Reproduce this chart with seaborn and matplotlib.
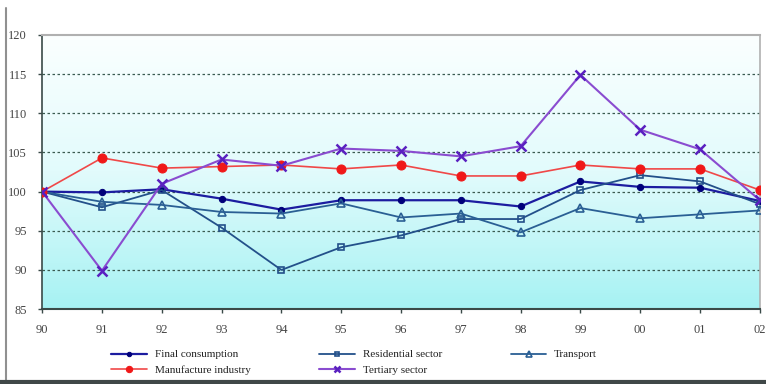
import numpy as np
import pandas as pd
import matplotlib.pyplot as plt
import seaborn as sns
from matplotlib.lines import Line2D
from matplotlib.colors import LinearSegmentedColormap

# ----------------------------
# DATA (index, 1990 = 100)
# ----------------------------

years = ['90', '91', '92', '93', '94', '95', '96', '97', '98', '99', '00', '01', '02']

final_consumption = [100, 99.9, 100.3, 99.1, 97.7, 98.9, 98.9, 98.9, 98.1, 101.3, 100.6, 100.5, 98.8]
residential_sector = [100, 98.0, 100.2, 95.4, 90.0, 92.9, 94.4, 96.5, 96.5, 100.2, 102.1, 101.3, 98.4]
transport = [100, 98.7, 98.3, 97.4, 97.2, 98.5, 96.7, 97.2, 94.8, 97.9, 96.6, 97.1, 97.6]
manufacture_industry = [100, 104.3, 103.0, 103.2, 103.4, 102.9, 103.4, 102.0, 102.0, 103.4, 102.9, 102.9, 100.2]
tertiary_sector = [100, 89.9, 101.0, 104.1, 103.3, 105.5, 105.2, 104.5, 105.8, 114.9, 107.9, 105.4, 98.9]

y_ticks = [85, 90, 95, 100, 105, 110, 115, 120]

sns.set_theme(style="white")
plt.rcParams['font.family'] = ['Liberation Serif', 'DejaVu Serif']

x = np.arange(len(years))

fig = plt.figure(figsize=(7.66, 3.84), dpi=100)
ax = fig.add_axes([0.055, 0.195, 0.937, 0.714])

# gradient background: white at top, cyan at bottom
cmap = LinearSegmentedColormap.from_list("bg", ["#fbffff", "#e2fbfc", "#a6f2f3"])
grad = np.linspace(1, 0, 256).reshape(-1, 1)
ax.imshow(grad, cmap=cmap, aspect='auto', extent=[0, len(years) - 1, 85, 120],
          origin='lower', zorder=0)

# ----------------------------
# LINES
# ----------------------------

series = [
    ("Final consumption", final_consumption,
     dict(color="#1c1ca0", marker="o", markersize=4.5, markerfacecolor="#00007a",
          markeredgecolor="#00007a", linewidth=1.6)),
    ("Residential sector", residential_sector,
     dict(color="#23508a", marker="s", markersize=5, markerfacecolor="none",
          markeredgecolor="#23508a", markeredgewidth=1.2, linewidth=1.3)),
    ("Transport", transport,
     dict(color="#2a5f94", marker="^", markersize=6, markerfacecolor="none",
          markeredgecolor="#2a5f94", markeredgewidth=1.2, linewidth=1.3)),
    ("Manufacture industry", manufacture_industry,
     dict(color="#f04848", marker="o", markersize=6.5, markerfacecolor="#f01818",
          markeredgecolor="#f01818", linewidth=1.2)),
    ("Tertiary sector", tertiary_sector,
     dict(color="#8a4cd0", marker="x", markersize=7, markeredgecolor="#5a20c0",
          markeredgewidth=1.8, linewidth=1.5)),
]

for name, vals, style in series:
    sns.lineplot(x=x, y=vals, ax=ax, label=name, zorder=3, **style)

# ----------------------------
# AXES STYLING
# ----------------------------

ax.set_xlim(0, len(years) - 1)
ax.set_ylim(85, 120)
ax.set_xticks(x)
ax.set_xticklabels(years)
ax.set_yticks(y_ticks)
ax.set_xlabel("")
ax.set_ylabel("")

for yv in y_ticks[1:-1]:
    ax.axhline(yv, color="#3a5a50", linestyle=(0, (2, 2)), linewidth=0.9, zorder=1)

ax.spines['left'].set_color("#3a4a48")
ax.spines['bottom'].set_color("#3a4a48")
ax.spines['left'].set_linewidth(1.2)
ax.spines['bottom'].set_linewidth(1.5)
ax.spines['top'].set_color("#b0b0b0")
ax.spines['right'].set_color("#b0b0b0")
ax.spines['top'].set_linewidth(1.5)
ax.spines['right'].set_linewidth(1.2)

ax.tick_params(axis='both', which='both', length=3, width=1, color="#3a4a48",
               labelsize=9, labelcolor="#444444", direction='out',
               bottom=True, left=True, pad=8)

# legend below plot, row-wise order
handles, labels = ax.get_legend_handles_labels()
order = [0, 3, 1, 4, 2]
ax.legend([handles[i] for i in order], [labels[i] for i in order],
          ncol=3, loc='upper left', bbox_to_anchor=(0.138, 0.104),
          bbox_transform=fig.transFigure, frameon=False, fontsize=8,
          handlelength=3.2, handletextpad=0.7, columnspacing=6.2,
          labelspacing=0.55, borderpad=0, markerscale=0.7,
          labelcolor="#222222")

# figure frame lines
fig.add_artist(Line2D([0.008, 0.008], [0.0, 0.98], transform=fig.transFigure,
                      color="#909090", linewidth=1.5))
fig.add_artist(Line2D([0.0, 1.0], [0.004, 0.004], transform=fig.transFigure,
                      color="#404848", linewidth=3))

plt.savefig("out.png", dpi=100)
